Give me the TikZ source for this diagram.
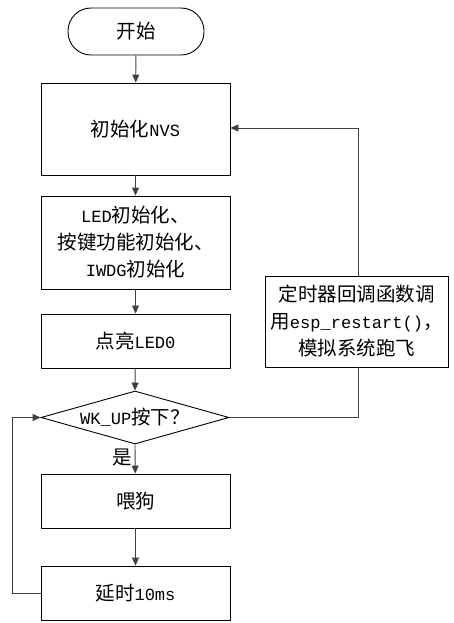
\documentclass[tikz,border=0pt]{standalone}
\usepackage{fontspec}
\setmainfont{Noto Sans CJK SC}
\newfontfamily\latf{Liberation Mono}[Scale=0.875]
\newcommand{\lt}[1]{{\latf #1}}
\usetikzlibrary{shapes.geometric,arrows.meta,positioning}
\begin{document}
\begin{tikzpicture}[x=1pt,y=-1pt,
  every node/.style={font=\fontsize{19.5}{27}\selectfont},
  proc/.style={draw,line width=0.9pt,minimum width=189pt,align=center,inner sep=0pt},
  term/.style={draw,line width=0.9pt,rounded corners=23pt,minimum width=136pt,minimum height=47pt},
  dec/.style={draw,line width=0.9pt,diamond,aspect=3.5,minimum width=188pt,minimum height=53pt,inner sep=0pt},
  conn/.style={draw=black!75,line width=0.9pt,-{Triangle[length=8pt,width=7pt]}},
  line/.style={draw=black!75,line width=0.9pt}]
\useasboundingbox (0,0) rectangle (454,623);
\node[term] (start) at (136,31.5) {开始};
\node[proc,minimum height=92pt] (nvs) at (135.5,129) {初始化\lt{NVS}};
\node[proc,minimum height=93pt] (init) at (135.5,242.5) {\lt{LED}初始化、\\按键功能初始化、\\\lt{IWDG}初始化};
\node[proc,minimum height=54pt] (led) at (135.5,341) {点亮\lt{LED0}};
\node[dec] (wk) at (135,417.5) {\lt{WK\_UP}按下？};
\node[proc,minimum height=54pt] (dog) at (135.5,501) {喂狗};
\node[proc,minimum height=54pt] (delay) at (135.5,593) {延时\lt{10ms}};
\node[draw,line width=0.9pt,minimum width=183pt,minimum height=91pt,align=center,inner sep=0pt] (timer) at (356.5,321.5) {定时器回调函数调\\用\lt{esp\_restart()}，\\模拟系统跑飞};
\draw[conn] (start) -- (nvs);
\draw[conn] (nvs) -- (init);
\draw[conn] (init) -- (led);
\draw[conn] (led) -- (wk.north);
\draw[conn] (wk.south) -- node[left,pos=0.45,inner sep=3pt] (yes) {是} (dog);
\draw[conn] (dog) -- (delay);
\coordinate (l1) at (12,593);
\coordinate (l2) at (12,417.5);
\draw[conn] (delay.west) -- (l1) -- (l2) -- (wk.west);
\coordinate (r1) at (358,417.5);
\draw[line] (wk.east) -- (r1) -- (r1 |- timer.south);
\coordinate (r2) at (358,128);
\draw[conn] (r2 |- timer.north) -- (r2) -- (nvs.east |- r2);
\end{tikzpicture}
\end{document}
